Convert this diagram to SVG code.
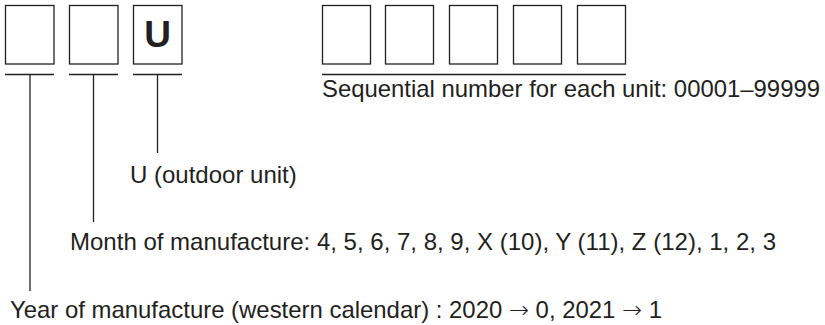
<svg xmlns="http://www.w3.org/2000/svg" width="825" height="325" viewBox="0 0 825 325">
<style>
.box{fill:#fff;stroke:#231f20;stroke-width:1.3}
.ln{stroke:#231f20;stroke-width:1.3;fill:none}
.t{font-family:"Liberation Sans",Arial,sans-serif;font-size:24px;fill:#231f20}
.ar{font-family:"Noto Sans","DejaVu Sans",sans-serif;font-weight:300}
.u{font-family:"Liberation Sans",Arial,sans-serif;font-size:37px;font-weight:bold;fill:#231f20;text-anchor:middle}
</style>
<rect width="825" height="325" fill="#fff"/>
<g id="year-box"><rect class="box" x="5.5" y="5.5" width="48.5" height="58.5"/></g>
<g id="month-box"><rect class="box" x="69.5" y="5.5" width="48.5" height="58.5"/></g>
<g id="unit-box"><rect class="box" x="133.5" y="5.5" width="48.5" height="58.5"/><text class="u" x="157.5" y="46.5">U</text></g>
<g id="serial-boxes">
<rect class="box" x="322.5" y="5.5" width="48" height="58.5"/>
<rect class="box" x="385.5" y="5.5" width="48" height="58.5"/>
<rect class="box" x="449.5" y="5.5" width="48" height="58.5"/>
<rect class="box" x="513.5" y="5.5" width="48" height="58.5"/>
<rect class="box" x="577.5" y="5.5" width="48" height="58.5"/>
</g>
<g id="connectors">
<line class="ln" x1="5" y1="74.5" x2="54" y2="74.5"/>
<line class="ln" x1="69" y1="74.5" x2="118" y2="74.5"/>
<line class="ln" x1="133" y1="74.5" x2="182" y2="74.5"/>
<line class="ln" x1="322" y1="74.5" x2="626" y2="74.5"/>
<line class="ln" x1="30" y1="74.5" x2="30" y2="291"/>
<line class="ln" x1="93.5" y1="74.5" x2="93.5" y2="222"/>
<line class="ln" x1="157.5" y1="74.5" x2="157.5" y2="153"/>
</g>
<g id="labels">
<text class="t" x="322" y="97" textLength="498" lengthAdjust="spacingAndGlyphs">Sequential number for each unit: 00001–99999</text>
<text class="t" x="130" y="183">U (outdoor unit)</text>
<text class="t" x="70" y="250" textLength="706" lengthAdjust="spacingAndGlyphs">Month of manufacture: 4, 5, 6, 7, 8, 9, X (10), Y (11), Z (12), 1, 2, 3</text>
<text class="t" x="10" y="318" textLength="652" lengthAdjust="spacingAndGlyphs">Year of manufacture (western calendar) : 2020 <tspan class="ar">→</tspan> 0, 2021 <tspan class="ar">→</tspan> 1</text>
</g>
</svg>
